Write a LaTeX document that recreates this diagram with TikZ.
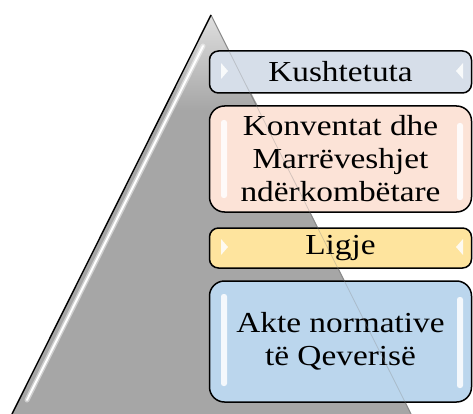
\documentclass[tikz,border=0pt]{standalone}
\usepackage{fontspec}
\setmainfont{Liberation Serif}[FakeStretch=1.15]
\definecolor{pyrgray}{HTML}{A6A6A6}
\definecolor{edgegray}{HTML}{8A8A8A}
\definecolor{c0}{HTML}{D6DEE9}
\definecolor{c1}{HTML}{FCE3D7}
\definecolor{c2}{HTML}{FEE49E}
\definecolor{c3}{HTML}{BBD6ED}
\begin{document}
\begin{tikzpicture}[x=1pt,y=-1pt]
\tikzstyle{tier}=[draw=black,line width=1.5pt,minimum width=262pt,align=center,inner sep=0pt,font=\fontsize{29}{33}\selectfont]
\tikzstyle{gloss}=[fill=white,opacity=0.85]
\useasboundingbox (0,0) rectangle (473,414);
% pyramid
\fill[pyrgray] (211,15) -- (411,414) -- (12,414) -- cycle;
\shade[top color=gray!25,bottom color=pyrgray] (211,15) -- (260,110) -- (163,110) -- cycle;
\draw[white,opacity=0.45,line width=5pt,line cap=round] (203,46) -- (27,400);
\draw[white,line width=2pt,line cap=round] (203,46) -- (27,400);
\draw[edgegray,line width=1pt] (211,15) -- (411,414);
\draw[black,line width=1.4pt] (211,15) -- (12,414);
% levels
\node[tier,fill=c0,rounded corners=9pt,minimum height=42pt](p0) at (340.5,72) {Kushtetuta};
\node[tier,fill=c1,rounded corners=15pt,minimum height=106pt](p1) at (340.5,159) {Konventat dhe\\Marrëveshjet\\ndërkombëtare};
\node[tier,fill=c2,rounded corners=9pt,minimum height=40pt](p2) at (340.5,248) {Ligje};
\node[tier,fill=c3,rounded corners=15pt,minimum height=121pt](p3) at (340.5,341.5) {Akte normative\\të Qeverisë};
% gloss
\fill[gloss] (221,63) -- (228,71) -- (221,79) -- cycle;
\fill[gloss] (463,63) -- (456,71) -- (463,79) -- cycle;
\fill[gloss] (221,239) -- (228,247) -- (221,255) -- cycle;
\fill[gloss] (463,239) -- (456,247) -- (463,255) -- cycle;
\fill[gloss,rounded corners=2.5pt] (221,120) rectangle (227,198);
\fill[gloss,rounded corners=2.5pt] (457,123) rectangle (463,200);
\fill[gloss,rounded corners=2.5pt] (221,294) rectangle (227,386);
\fill[gloss,rounded corners=2.5pt] (457,297) rectangle (463,388);
\draw[edgegray,opacity=0.35,line width=0.8pt] (229,51) -- (411,414);
\end{tikzpicture}
\end{document}
